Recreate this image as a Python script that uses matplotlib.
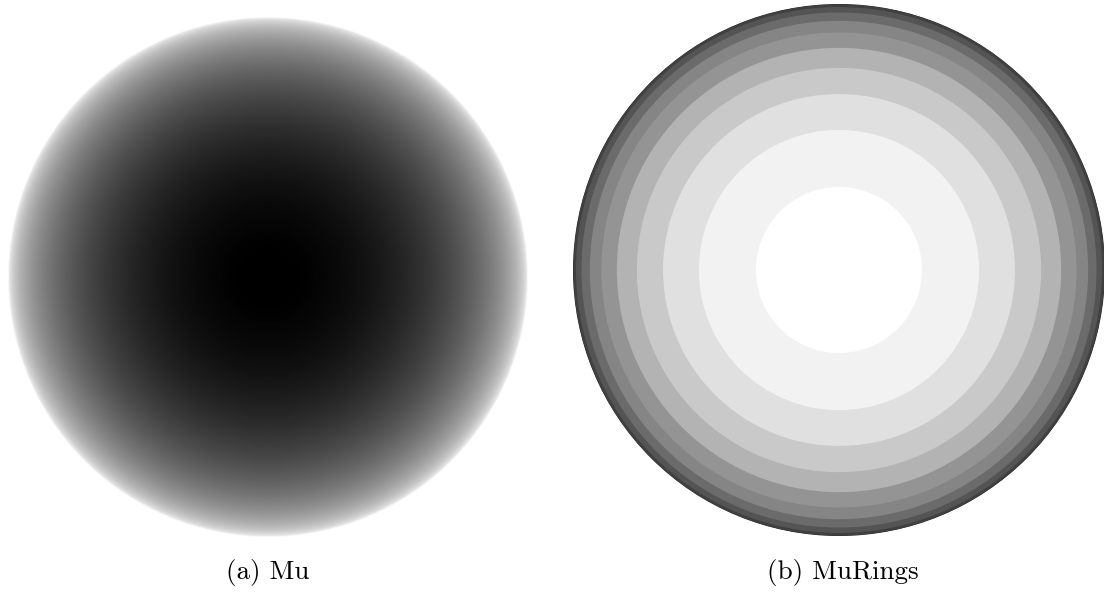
import numpy as np
import matplotlib
matplotlib.use("Agg")
import matplotlib.pyplot as plt
from matplotlib.patches import Circle

plt.rcParams.update({'font.family': 'cmr10', 'axes.formatter.use_mathtext': True})

# ring boundaries in mu (outer -> inner) and the grey level of each ring
mu_edges = [0.0, 0.05, 0.15, 0.25, 0.35, 0.45, 0.55, 0.65, 0.75, 0.85, 0.95]
ring_grey = [0.15, 0.25, 0.33, 0.42, 0.52, 0.58, 0.70, 0.79, 0.88, 0.95, 1.0]
captions = ["(a) Mu", "(b) MuRings"]

W, H = 1104, 596
fig = plt.figure(figsize=(W / 100, H / 100), dpi=100)

def px_axes(x0, y0, x1, y1):
    # pixel box (top-left origin) -> axes
    ax = fig.add_axes([x0 / W, (H - y1) / H, (x1 - x0) / W, (y1 - y0) / H])
    ax.set_xlim(-1, 1)
    ax.set_ylim(-1, 1)
    ax.axis('off')
    return ax

# (a) mu map, zero (white) outside the disk
ax1 = px_axes(8, 17, 528, 537)
n = 1040
x = np.linspace(-1, 1, n)
xx, yy = np.meshgrid(x, x)
mu = np.sqrt(np.clip(1 - xx**2 - yy**2, 0, 1))
ax1.imshow(mu, cmap='gray_r', vmin=0, vmax=1, extent=(-1, 1, -1, 1),
           origin='lower', interpolation='bilinear')

# (b) rings of constant mu
ax2 = px_axes(573, 4, 1105, 536)
for m, g in zip(mu_edges, ring_grey):
    rad = np.sqrt(1 - m**2)
    ax2.add_patch(Circle((0, 0), rad, facecolor=str(g), edgecolor='none'))

fig.text(268 / W, 0.04, captions[0], ha='center', va='center', fontsize=19.5)
fig.text(843 / W, 0.04, captions[1], ha='center', va='center', fontsize=19.5)

fig.savefig('out.png', dpi=100, facecolor='white')
